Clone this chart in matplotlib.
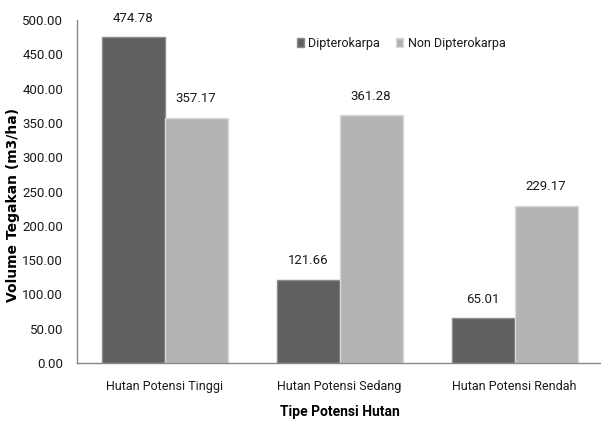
import matplotlib
matplotlib.use("Agg")
import matplotlib.pyplot as plt
import numpy as np

plt.rcParams["font.family"] = ["Roboto", "DejaVu Sans"]

categories = ["Hutan Potensi Tinggi", "Hutan Potensi Sedang", "Hutan Potensi Rendah"]
series_names = ["Dipterokarpa", "Non Dipterokarpa"]
dipterokarpa = [474.78, 121.66, 65.01]
non_dipterokarpa = [357.17, 361.28, 229.17]
yticks = [0, 50, 100, 150, 200, 250, 300, 350, 400, 450, 500]

text_color = "#1a1a1a"

fig = plt.figure(figsize=(6.01, 4.23), dpi=100)
ax = fig.add_axes([77 / 601, 1 - 363 / 423, 525 / 601, 343 / 423])

x = np.arange(len(categories))
w = 0.36
b1 = ax.bar(x - w / 2, dipterokarpa, w, color="#606060", edgecolor="#8c8c8c",
            linewidth=1.0, label=series_names[0])
b2 = ax.bar(x + w / 2, non_dipterokarpa, w, color="#b3b3b3", edgecolor="#d9d9d9",
            linewidth=1.0, label=series_names[1])

for bars, vals in ((b1, dipterokarpa), (b2, non_dipterokarpa)):
    for r, v in zip(bars, vals):
        ax.annotate(f"{v:.2f}", (r.get_x() + r.get_width() / 2, v),
                    xytext=(0, 9), textcoords="offset points",
                    ha="center", va="bottom", fontsize=9.5, color=text_color)

ax.set_xlim(-0.5, 2.5)
ax.set_ylim(0, 500)
ax.set_yticks(yticks)
ax.set_yticklabels([f"{t:.2f}" for t in yticks], fontsize=9.5, color=text_color)
ax.set_xticks(x)
ax.set_xticklabels(categories, fontsize=9, color=text_color)
ax.tick_params(axis="y", length=0, pad=10)
ax.tick_params(axis="x", length=0, pad=12)

for s in ("top", "right"):
    ax.spines[s].set_visible(False)
for s in ("left", "bottom"):
    ax.spines[s].set_color("#888888")
    ax.spines[s].set_linewidth(1.0)

ax.set_ylabel("Volume Tegakan (m3/ha)", fontsize=10, fontweight="bold",
              family="DejaVu Sans")
ax.yaxis.set_label_coords((20 - 77) / 525, 0.46)
ax.set_xlabel("Tipe Potensi Hutan", fontsize=10, fontweight="bold", labelpad=9)

leg = ax.legend(loc="center left", bbox_to_anchor=(215 / 525, 1 - 23 / 343), ncol=2,
                frameon=False, fontsize=9, handlelength=0.55, handleheight=0.7,
                handletextpad=0.35, columnspacing=1.3, borderaxespad=0)
for t in leg.get_texts():
    t.set_color(text_color)

fig.savefig("out.png", dpi=100)
